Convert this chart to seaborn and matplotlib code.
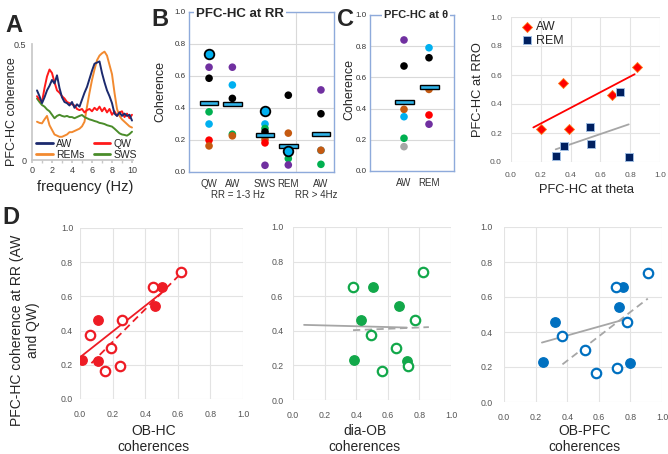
import numpy as np
import pandas as pd
import matplotlib
matplotlib.use("Agg")
import matplotlib.pyplot as plt
import seaborn as sns

# panel A: PFC-HC coherence spectra
freq = [0.5, 0.75, 1.0, 1.25, 1.5, 1.75, 2.0, 2.25, 2.5, 2.75, 3.0, 3.25, 3.5,
        3.75, 4.0, 4.25, 4.5, 4.75, 5.0, 5.25, 5.5, 5.75, 6.0, 6.25, 6.5, 6.75,
        7.0, 7.25, 7.5, 7.75, 8.0, 8.25, 8.5, 8.75, 9.0, 9.25, 9.5, 9.75, 10.0]
coh_aw = [0.30, 0.275, 0.245, 0.27, 0.30, 0.32, 0.345, 0.33, 0.365, 0.31, 0.27,
          0.25, 0.245, 0.235, 0.25, 0.225, 0.24, 0.23, 0.26, 0.29, 0.315, 0.35,
          0.385, 0.415, 0.42, 0.425, 0.375, 0.335, 0.30, 0.275, 0.245, 0.20, 0.19,
          0.205, 0.19, 0.20, 0.19, 0.195, 0.17]
coh_qw = [0.275, 0.26, 0.25, 0.31, 0.36, 0.39, 0.375, 0.335, 0.30, 0.29, 0.275,
          0.265, 0.25, 0.245, 0.24, 0.235, 0.22, 0.215, 0.22, 0.205, 0.215, 0.22,
          0.21, 0.225, 0.215, 0.23, 0.21, 0.225, 0.205, 0.22, 0.195, 0.21, 0.19,
          0.205, 0.21, 0.185, 0.20, 0.18, 0.195]
coh_rem = [0.165, 0.16, 0.158, 0.175, 0.19, 0.15, 0.13, 0.11, 0.105, 0.10, 0.10,
           0.105, 0.11, 0.12, 0.12, 0.125, 0.13, 0.135, 0.145, 0.165, 0.23, 0.29,
           0.345, 0.39, 0.43, 0.45, 0.46, 0.467, 0.45, 0.41, 0.37, 0.29, 0.22,
           0.19, 0.175, 0.165, 0.155, 0.145, 0.14]
coh_sws = [0.265, 0.25, 0.237, 0.23, 0.218, 0.21, 0.195, 0.18, 0.19, 0.195, 0.19,
           0.187, 0.19, 0.185, 0.185, 0.18, 0.185, 0.19, 0.194, 0.185, 0.18, 0.175,
           0.172, 0.168, 0.165, 0.16, 0.158, 0.155, 0.15, 0.147, 0.144, 0.135,
           0.125, 0.115, 0.11, 0.108, 0.105, 0.112, 0.122]

# panel B: PFC-HC coherence at RR, one dot per animal ("C*" = highlighted animal)
rr_groups = ["QW", "AW", "SWS", "REM", "AW"]
rr_pos = [0, 1, 2.4, 3.4, 4.8]
rr_values = [
    [0.738, 0.655, 0.586, 0.376, 0.30, 0.199, 0.163],
    [0.655, 0.544, 0.46, 0.236, 0.226],
    [0.383, 0.30, 0.272, 0.251, 0.203, 0.182, 0.042],
    [0.48, 0.243, 0.115, 0.084, 0.044, 0.13],
    [0.513, 0.364, 0.135, 0.136, 0.048],
]
rr_animals = [
    ["C*", "P", "K", "G", "C", "R", "O"],
    ["P", "C", "K", "G", "O"],
    ["C*", "C", "G", "K", "O", "R", "P"],
    ["K", "O", "R", "G", "P", "C*"],
    ["P", "K", "C", "O", "G"],
]
rr_means = [0.433, 0.425, 0.23, 0.163, 0.24]

# panel C: PFC-HC coherence at theta
th_groups = ["AW", "REM"]
th_pos = [0, 1]
th_values = [
    [0.84, 0.673, 0.395, 0.348, 0.21, 0.156],
    [0.79, 0.726, 0.523, 0.359, 0.30],
]
th_animals = [
    ["P", "K", "O", "C", "G", "Y"],
    ["C", "K", "O", "R", "P"],
]
th_means = [0.44, 0.54]

animal_colors = {"P": "#7030a0", "K": "#000000", "C": "#00b0f0", "G": "#00b050",
                 "R": "#ff0000", "O": "#c55a11", "Y": "#a6a6a6"}

# top-right: RR vs theta coherence
theta_aw = [0.20, 0.35, 0.39, 0.675, 0.845]
rro_aw = [0.23, 0.545, 0.225, 0.46, 0.655]
theta_rem = [0.30, 0.355, 0.53, 0.535, 0.73, 0.79]
rro_rem = [0.04, 0.11, 0.24, 0.125, 0.48, 0.035]
trend_aw = [0.15, 0.83]
trend_rem = [0.30, 0.79]

# panel D: PFC-HC coherence at RR vs other coherences (filled = AW, open = QW)
d_aw_y = [0.225, 0.23, 0.46, 0.545, 0.655]
d_qw_y = [0.165, 0.195, 0.30, 0.375, 0.46, 0.655, 0.74]
obhc_aw = [0.11, 0.01, 0.11, 0.46, 0.50]
obhc_qw = [0.155, 0.245, 0.19, 0.06, 0.26, 0.45, 0.62]
diaob_aw = [0.72, 0.385, 0.43, 0.67, 0.505]
diaob_qw = [0.565, 0.73, 0.65, 0.495, 0.775, 0.38, 0.82]
obpfc_aw = [0.80, 0.245, 0.325, 0.725, 0.755]
obpfc_qw = [0.58, 0.715, 0.515, 0.37, 0.78, 0.71, 0.91]
d_xlabels = ["OB-HC\ncoherences", "dia-OB\ncoherences", "OB-PFC\ncoherences"]
d_trend_aw = [[0.01, 0.50], [0.07, 0.72], [0.24, 0.77]]
d_trend_qw = [[0.07, 0.62], [0.38, 0.86], [0.37, 0.91]]

sns.set_theme(style="white")
plt.rcParams["font.family"] = ["Liberation Sans", "DejaVu Sans"]

W, H = 668, 454
fig = plt.figure(figsize=(W / 100, H / 100), dpi=100)


def px_axes(x0, y0, x1, y1):
    return fig.add_axes([x0 / W, 1 - y1 / H, (x1 - x0) / W, (y1 - y0) / H])


def trend(ax, xs, ys, xr, color, ls="-"):
    fit = np.polyfit(xs, ys, 1)
    xr = np.array(xr)
    line, = ax.plot(xr, np.polyval(fit, xr), color=color, lw=1.3, ls=ls, zorder=2)
    if ls == "--":
        line.set_dashes((4, 2.5))


tick_vals = [0.0, 0.2, 0.4, 0.6, 0.8, 1.0]

# ---------- A
axA = px_axes(32, 44, 133, 160)
df_a = pd.concat([
    pd.DataFrame({"freq": freq, "coh": coh_rem, "state": "REMs"}),
    pd.DataFrame({"freq": freq, "coh": coh_sws, "state": "SWS"}),
    pd.DataFrame({"freq": freq, "coh": coh_qw, "state": "QW"}),
    pd.DataFrame({"freq": freq, "coh": coh_aw, "state": "AW"}),
])
pal_a = {"AW": "#1c2a6e", "QW": "#ff1a1a", "REMs": "#f28a30", "SWS": "#4a8c2a"}
sns.lineplot(data=df_a, x="freq", y="coh", hue="state", palette=pal_a,
             lw=1.4, ax=axA)
axA.set_xlim(0, 10.1)
axA.set_ylim(0, 0.5)
axA.set_xticks([0, 2, 4, 6, 8, 10])
axA.set_xticks([1, 3, 5, 7, 9], minor=True)
axA.set_yticks([0, 0.5])
axA.set_yticklabels(["0", "0.5"])
for s in ["top", "right"]:
    axA.spines[s].set_visible(False)
for s in ["left", "bottom"]:
    axA.spines[s].set_color("#c8c8c8")
axA.tick_params(axis="both", which="both", labelsize=6.5, length=2,
                color="#c8c8c8", pad=2, bottom=True, labelcolor="#404040")
axA.set_xlabel("frequency (Hz)", fontsize=10.5, va="center")
axA.xaxis.set_label_coords(0.53, -0.235)
axA.set_ylabel("PFC-HC coherence", fontsize=9, va="center")
axA.yaxis.set_label_coords(-0.2, 0.42)
h, l = axA.get_legend_handles_labels()
hd = dict(zip(l, h))
order = ["AW", "REMs", "QW", "SWS"]
leg = axA.legend([hd[k] for k in order], order, ncol=2, loc="lower left",
                 bbox_to_anchor=(-0.02, -0.05), frameon=False, fontsize=7.5,
                 handlelength=1.6, handletextpad=0.3, columnspacing=0.9,
                 labelspacing=0.05, borderpad=0.1)
for ln in leg.get_lines():
    ln.set_linewidth(2.0)


# ---------- B and C
def group_panel(ax, pos, groups, values, animals, means, xlim, bar_w):
    rows = []
    for p, vals, ans in zip(pos, values, animals):
        for v, a in zip(vals, ans):
            rows.append({"pos": p, "coh": v, "animal": a})
    df = pd.DataFrame(rows)
    reg = df[df["animal"] != "C*"]
    sns.scatterplot(data=reg, x="pos", y="coh", hue="animal", palette=animal_colors,
                    s=30, linewidth=0, legend=False, ax=ax, zorder=3)
    bar_h = 0.026
    ax.bar(pos, bar_h, bottom=np.array(means) - bar_h / 2, width=bar_w,
           color="#2fb3e8", edgecolor="black", linewidth=1.0, zorder=4)
    hl = df[df["animal"] == "C*"]
    if len(hl):
        sns.scatterplot(data=hl, x="pos", y="coh", color="#00b0f0", edgecolor="black",
                        linewidth=1.3, s=48, legend=False, ax=ax, zorder=5)
    ax.set_xlim(*xlim)
    ax.set_ylim(0, 1)
    ax.set_yticks(tick_vals)
    ax.set_yticklabels([f"{v:.1f}" for v in tick_vals])
    ax.set_xticks(pos)
    ax.set_xticklabels(groups)
    ax.yaxis.grid(True, color="#d9d9d9", lw=0.8)
    ax.xaxis.grid(False)
    ax.set_axisbelow(True)
    for s in ax.spines.values():
        s.set_color("#8eaadb")
        s.set_linewidth(1.0)
    ax.tick_params(axis="y", labelsize=5.8, length=0, pad=2.5, labelcolor="#333333")
    ax.tick_params(axis="x", labelsize=7, length=0, pad=5, labelcolor="#333333")
    ax.set_xlabel("")
    ax.set_ylabel("Coherence", fontsize=9, va="center")
    ax.yaxis.set_label_coords(-0.2, 0.5)


axB = px_axes(189, 12, 334, 172)
group_panel(axB, rr_pos, rr_groups, rr_values, rr_animals, rr_means,
            (-0.86, 5.36), 0.8)
axB.axvline(3.75, color="#d9d9d9", lw=0.8, zorder=1)
axB.text(0.35, 0.985, "PFC-HC at RR", transform=axB.transAxes, ha="center",
         va="center", fontsize=9.5, fontweight="bold",
         bbox=dict(facecolor="white", edgecolor="none", pad=1.5))
tr = axB.get_xaxis_transform()
axB.text(1.24, -0.145, "RR = 1-3 Hz", transform=tr, ha="center", va="center",
         fontsize=7, color="#333333")
axB.text(4.6, -0.145, "RR > 4Hz", transform=tr, ha="center", va="center",
         fontsize=7, color="#333333")

axC = px_axes(370, 15, 454, 171)
group_panel(axC, th_pos, th_groups, th_values, th_animals, th_means,
            (-1.36, 2.0), 0.76)
axC.yaxis.set_label_coords(-0.24, 0.52)
axC.text(0.55, 1.0, "PFC-HC at θ", transform=axC.transAxes, ha="center",
         va="center", fontsize=8, fontweight="bold",
         bbox=dict(facecolor="white", edgecolor="none", pad=1.5))


def light_axes(ax, labelsize, ypad, xpad):
    ax.set_xlim(0, 1)
    ax.set_ylim(0, 1)
    ax.set_xticks(tick_vals)
    ax.set_yticks(tick_vals)
    ax.set_xticklabels([f"{v:.1f}" for v in tick_vals])
    ax.set_yticklabels([f"{v:.1f}" for v in tick_vals])
    ax.grid(True, color="#e3e3e3", lw=0.8)
    ax.set_axisbelow(True)
    for s in ax.spines.values():
        s.set_visible(False)
    ax.tick_params(axis="y", labelsize=labelsize, length=0, pad=ypad,
                   labelcolor="#555555")
    ax.tick_params(axis="x", labelsize=labelsize, length=0, pad=xpad,
                   labelcolor="#555555")


# ---------- top-right scatter
axS = px_axes(511, 17, 660, 162)
light_axes(axS, 6, 6.5, 7)
trend(axS, theta_aw, rro_aw, trend_aw, "#ff0000")
trend(axS, theta_rem, rro_rem, trend_rem, "#a6a6a6")
sns.scatterplot(x=theta_aw, y=rro_aw, marker="D", color="#ff0000",
                edgecolor="#ff7a1a", linewidth=0.6, s=26, label="AW", ax=axS, zorder=3)
sns.scatterplot(x=theta_rem, y=rro_rem, marker="s", color="#002060",
                edgecolor="#9dbbe0", linewidth=0.7, s=34, label="REM", ax=axS, zorder=3)
axS.legend(loc="upper left", bbox_to_anchor=(0.0, 1.03), frameon=False, fontsize=9,
           handletextpad=0.1, labelspacing=0.1, borderpad=0.2, handlelength=1.2)
axS.set_xlabel("PFC-HC at theta", fontsize=9.3, va="center")
axS.xaxis.set_label_coords(0.51, -0.195)
axS.set_ylabel("PFC-HC at RRO", fontsize=9.3, va="center")
axS.yaxis.set_label_coords(-0.22, 0.5)

# ---------- D
d_boxes = [(80, 228, 243, 399), (293, 227, 451, 400), (504, 227, 662, 402)]
d_colors = ["#ee1c25", "#12a84a", "#0070c0"]
d_line_colors = ["#ee1c25", "#a6a6a6", "#a6a6a6"]
d_x_aw = [obhc_aw, diaob_aw, obpfc_aw]
d_x_qw = [obhc_qw, diaob_qw, obpfc_qw]
d_label_x = [0.45, 0.455, 0.51]
d_ypad = [5, 7, 8]
for i in range(3):
    ax = px_axes(*d_boxes[i])
    light_axes(ax, 6.3, d_ypad[i], 8)
    c = d_colors[i]
    trend(ax, d_x_aw[i], d_aw_y, d_trend_aw[i], d_line_colors[i])
    trend(ax, d_x_qw[i], d_qw_y, d_trend_qw[i], d_line_colors[i], ls="--")
    sns.scatterplot(x=d_x_aw[i], y=d_aw_y, color=c, edgecolor=c, linewidth=1,
                    s=46, legend=False, ax=ax, zorder=3)
    sns.scatterplot(x=d_x_qw[i], y=d_qw_y, color="white", edgecolor=c,
                    linewidth=1.6, s=46, legend=False, ax=ax, zorder=3)
    ax.set_xlabel(d_xlabels[i], fontsize=10, va="center", linespacing=1.2)
    bottom_px = d_boxes[i][3]
    height_px = d_boxes[i][3] - d_boxes[i][1]
    ax.xaxis.set_label_coords(d_label_x[i], (bottom_px - 439) / height_px)

fig.text(25 / W, 1 - 330 / H, "PFC-HC coherence at RR (AW\nand QW)", rotation=90,
         ha="center", va="center", fontsize=10, multialignment="center",
         linespacing=1.2)

# panel letters
for letter, x, y in [("A", 14, 26), ("B", 160, 20), ("C", 345, 19), ("D", 11, 218)]:
    fig.text(x / W, 1 - y / H, letter, fontsize=17, fontweight="bold",
             ha="center", va="center")

fig.savefig("out.png", dpi=100)
